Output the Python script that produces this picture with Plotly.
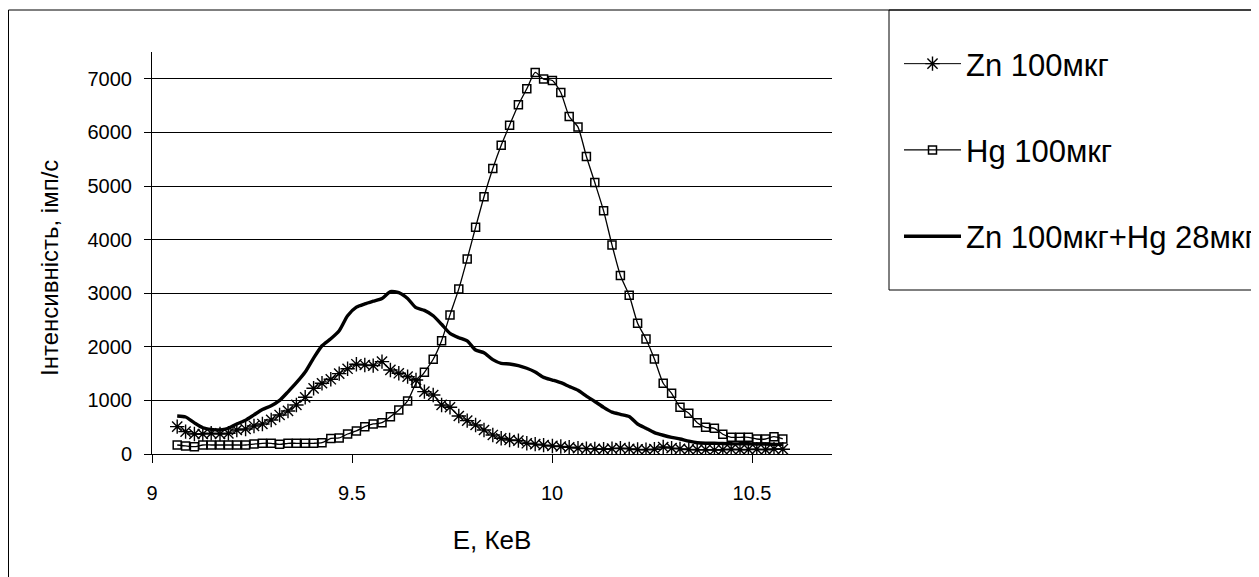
import plotly.graph_objects as go

# Energy channels (keV)
energy = [9.063, 9.084, 9.106, 9.127, 9.148, 9.170, 9.191, 9.212, 9.234, 9.255,
          9.276, 9.298, 9.319, 9.340, 9.361, 9.383, 9.404, 9.425, 9.447, 9.468,
          9.489, 9.511, 9.532, 9.553, 9.575, 9.596, 9.617, 9.639, 9.660, 9.681,
          9.703, 9.724, 9.745, 9.767, 9.788, 9.809, 9.830, 9.852, 9.873, 9.894,
          9.916, 9.937, 9.958, 9.979, 10.001, 10.022, 10.043, 10.065, 10.086, 10.107,
          10.129, 10.150, 10.171, 10.193, 10.214, 10.235, 10.256, 10.278, 10.299, 10.320,
          10.342, 10.363, 10.384, 10.406, 10.427, 10.448, 10.470, 10.491, 10.512, 10.534,
          10.555, 10.577]

zn_100 = [510, 417, 373, 373, 386, 373, 386, 448, 467, 523,
          560, 635, 728, 803, 915, 1058, 1226, 1320, 1394, 1500,
          1590, 1675, 1661, 1649, 1723, 1568, 1506, 1443, 1381, 1163,
          1101, 915, 872, 709, 622, 541, 448, 355, 293, 261,
          249, 200, 185, 165, 150, 140, 125, 110, 100, 95,
          90, 100, 110, 95, 85, 80, 90, 130, 110, 95,
          85, 80, 80, 75, 80, 90, 80, 85, 90, 80,
          95, 90]

hg_100 = [168, 150, 136, 168, 168, 168, 168, 168, 168, 185,
          200, 200, 180, 200, 200, 200, 200, 210, 290, 300,
          373, 430, 510, 560, 585, 697, 821, 990, 1320, 1525,
          1768, 2115, 2595, 3080, 3640, 4230, 4800, 5325, 5760, 6135,
          6515, 6813, 7118, 6995, 6968, 6745, 6297, 6099, 5550, 5065,
          4536, 3900, 3330, 2960, 2440, 2147, 1773, 1320, 1133, 872,
          760, 585, 498, 480, 368, 312, 312, 312, 280, 280,
          323, 280]

zn_hg_mix = [709, 690, 580, 490, 460, 448, 480, 560, 630, 730,
             830, 900, 1000, 1160, 1330, 1530, 1790, 2020, 2150, 2300,
             2580, 2740, 2800, 2850, 2900, 3030, 3010, 2900, 2730, 2680,
             2580, 2420, 2250, 2170, 2110, 1940, 1890, 1760, 1690, 1680,
             1650, 1600, 1530, 1430, 1380, 1330, 1260, 1190, 1080, 980,
             870, 780, 740, 700, 560, 480, 400, 350, 310, 280,
             240, 210, 200, 200, 195, 190, 190, 190, 185, 185,
             180, 180]

names = ["Zn 100мкг", "Hg 100мкг", "Zn 100мкг+Hg 28мкг"]
x_ticks = [9, 9.5, 10, 10.5]
y_ticks = [0, 1000, 2000, 3000, 4000, 5000, 6000, 7000]
x_title = "E, КеВ"
y_title = "Інтенсивність, імп/с"

FONT = "Liberation Sans, Arial, sans-serif"

fig = go.Figure()
fig.add_trace(go.Scatter(
    x=energy, y=zn_100, name=names[0], mode="lines+markers", legendgroup="a",
    line=dict(color="black", width=1, shape="spline", smoothing=0.6),
    marker=dict(symbol="asterisk-open", size=12, color="black", line=dict(color="black", width=1.4)),
))
fig.add_trace(go.Scatter(
    x=energy, y=hg_100, name=names[1], mode="lines+markers", legendgroup="b",
    line=dict(color="black", width=1.3, shape="spline", smoothing=0.6),
    marker=dict(symbol="square-open", size=8, color="black", line=dict(color="black", width=1.5)),
))
fig.add_trace(go.Scatter(
    x=energy, y=zn_hg_mix, name=names[2], mode="lines", legendgroup="c",
    line=dict(color="black", width=3.4, shape="spline", smoothing=0.6),
))

W, H = 1259, 577
OFF = 8  # page body margin
L, R, T, B = 152 - OFF, 832 - OFF, 52 - OFF, 454 - OFF


def px(xs):
    return (xs - OFF - L) / (R - L)


def py(ys):
    return (B - (ys - OFF)) / (B - T)


shapes = [
    dict(type="rect", xref="paper", yref="paper", x0=px(8.5), x1=px(1330), y0=py(10), y1=py(650),
         line=dict(color="black", width=1), fillcolor="rgba(0,0,0,0)", layer="below"),
    dict(type="rect", xref="paper", yref="paper", x0=px(889), x1=px(1330), y0=py(10), y1=py(290),
         line=dict(color="black", width=1), fillcolor="rgba(0,0,0,0)", layer="below"),
]

annotations = [
    dict(text=y_title, xref="paper", yref="paper", x=px(49), y=py(268),
         xanchor="center", yanchor="middle", textangle=-90, showarrow=False,
         font=dict(family=FONT, size=24, color="black")),
]

fig.update_layout(
    width=W, height=H,
    margin=dict(l=L, r=W - R, t=T, b=H - B, autoexpand=False),
    paper_bgcolor="white", plot_bgcolor="white",
    font=dict(family=FONT, color="black", size=20),
    shapes=shapes,
    annotations=annotations,
    showlegend=True,
    legend=dict(
        x=px(899), y=py(37), xanchor="left", yanchor="top",
        bgcolor="rgba(0,0,0,0)", borderwidth=0,
        font=dict(family=FONT, size=31, color="black"),
        tracegroupgap=43, itemwidth=57,
    ),
    xaxis=dict(
        range=[9, 10.7], tickvals=x_ticks, ticktext=[str(v) for v in x_ticks],
        showgrid=False, zeroline=False, showline=True, linecolor="black", linewidth=1,
        ticks="outside", ticklen=8, tickcolor="black", ticklabelstandoff=13,
        tickfont=dict(family=FONT, size=20),
        title=dict(text=x_title, font=dict(family=FONT, size=26), standoff=27),
    ),
    yaxis=dict(
        range=[0, 7500], tickvals=y_ticks,
        showgrid=True, gridcolor="black", gridwidth=1, zeroline=False,
        showline=True, linecolor="black", linewidth=1,
        ticks="outside", ticklen=7, tickcolor="black", ticklabelstandoff=8,
        tickfont=dict(family=FONT, size=20),
    ),
)

fig.write_html("out.html")
